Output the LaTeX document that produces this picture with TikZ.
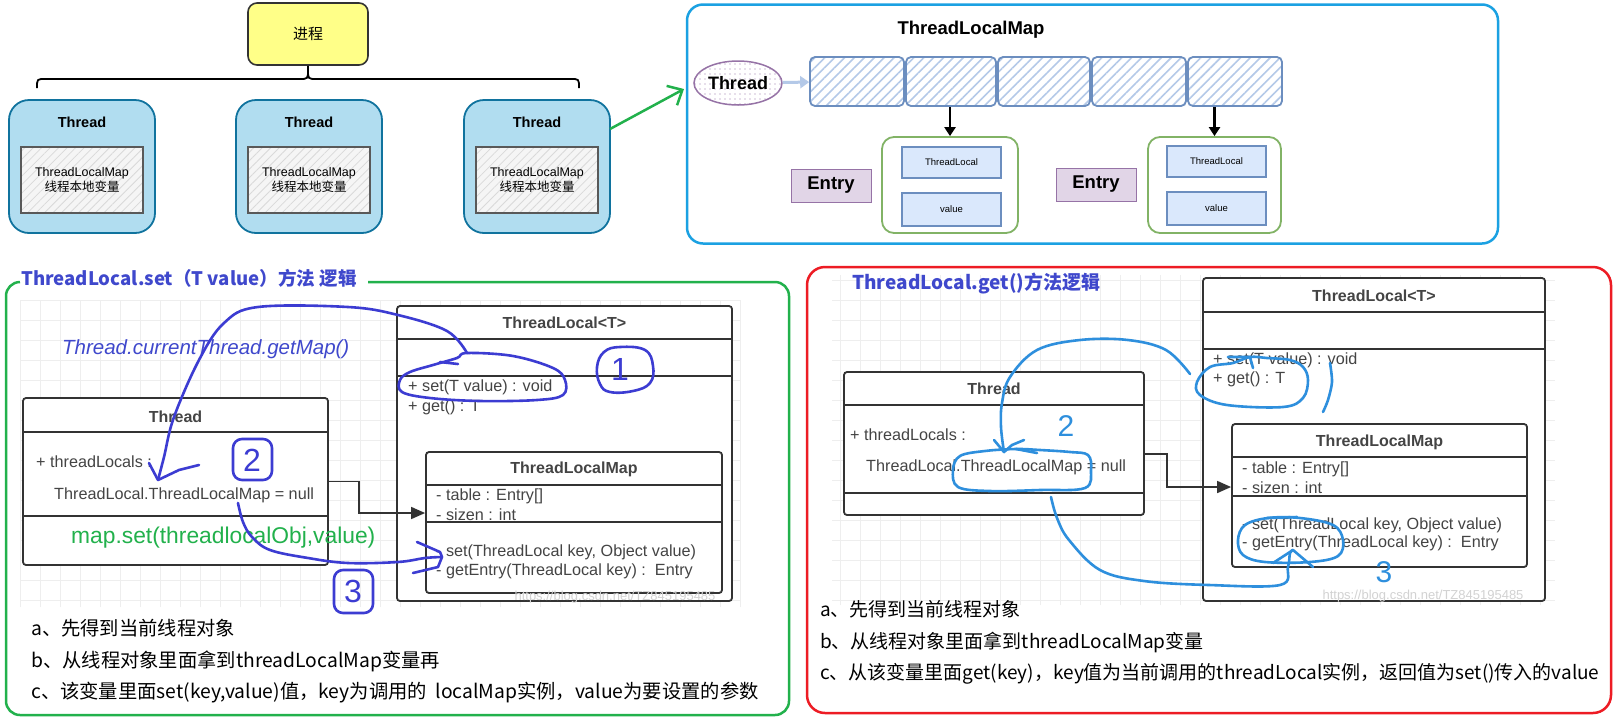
\documentclass[tikz,border=0pt]{standalone}
\usepackage{fontspec}
\setmainfont{Liberation Sans}
\newfontfamily\cjk{Noto Sans CJK SC}
\usetikzlibrary{arrows.meta,patterns.meta,shapes.geometric,calc}
\definecolor{thfill}{HTML}{B1DDF0}
\definecolor{thline}{HTML}{10739E}
\definecolor{procfill}{HTML}{FFFF88}
\definecolor{topblue}{HTML}{1BA1E2}
\definecolor{cellline}{HTML}{6C8EBF}
\definecolor{cellhatch}{HTML}{B4C9E8}
\definecolor{purpline}{HTML}{9673A6}
\definecolor{purpfill}{HTML}{E1D5E7}
\definecolor{entgreen}{HTML}{82B366}
\definecolor{inblue}{HTML}{DAE8FC}
\definecolor{pgreen}{HTML}{22B14C}
\definecolor{pred}{HTML}{ED1C24}
\definecolor{tblue}{HTML}{3F48CC}
\definecolor{annl}{HTML}{3C3CD2}
\definecolor{annr}{HTML}{2E8FDD}
\definecolor{umlc}{HTML}{333333}
\definecolor{umltext}{HTML}{444444}
\definecolor{gridc}{HTML}{EEEEEE}
\newcommand{\fsz}[1]{\fontsize{#1}{#1}\selectfont}
\begin{document}
\begin{tikzpicture}[x=1pt,y=-1pt,
  proc/.style={draw=umlc,line width=1.6pt,fill=procfill,rounded corners=9pt,minimum width=120pt,minimum height=62pt,font=\cjk\fsz{15}},
  thbox/.style={draw=thline,fill=thfill,line width=1.8pt,rounded corners=20pt,minimum width=146pt,minimum height=133pt},
  thtitle/.style={font=\bfseries\fsz{14.5},inner sep=0pt},
  inbox/.style={draw=gray!70!black,line width=1.6pt,preaction={fill=gray!8},pattern={Lines[angle=45,distance=6pt,line width=0.8pt]},pattern color=gray!30,minimum width=122pt,minimum height=66pt,align=center,font=\fsz{12.5},inner sep=0pt},
  brace/.style={line width=1.8pt,draw=black},
  garrow/.style={draw=pgreen,line width=2.5pt,-{Straight Barb[length=12pt,width=22pt]}},
  cell/.style={draw=cellline,line width=1.8pt,rounded corners=5pt,preaction={fill=white},pattern={Lines[angle=45,distance=7pt,line width=1.6pt]},pattern color=cellhatch,minimum height=49pt,inner sep=0pt},
  larrow/.style={draw=cellhatch,line width=3pt,-{Triangle[length=9pt,width=12pt]}},
  darrow/.style={draw=black,line width=2.4pt,-{Triangle[length=9pt,width=11pt]}},
  gbox/.style={draw=entgreen,line width=1.8pt,rounded corners=12pt,minimum height=96pt,inner sep=0pt},
  entry/.style={draw=purpline,fill=purpfill,line width=1pt,minimum width=80pt,minimum height=33pt,font=\bfseries\fsz{18.5},inner sep=0pt},
  ibox/.style={draw=cellline,fill=inblue,line width=1.4pt,minimum width=99pt,minimum height=31pt,font=\fsz{9.5},inner sep=0pt},
  umlbox/.style={draw=umlc,line width=1.8pt,rounded corners=3pt,fill=white,inner sep=0pt},
  umlline/.style={draw=umlc,line width=1.8pt},
  umltitle/.style={font=\bfseries\fsz{16},text=umltext,inner sep=0pt},
  member/.style={anchor=west,font=\fsz{16.2},text=umltext,inner sep=0pt},
  conn/.style={draw=umlc,line width=1.6pt,-{Triangle[length=14pt,width=12pt]}},
  btxt/.style={anchor=west,font=\cjk\fsz{19.3},inner sep=0pt},
  ttl/.style={anchor=west,text=tblue,font=\cjk\bfseries\fsz{19},inner sep=0pt},
  wm/.style={font=\fsz{13},text=gray!35,inner sep=0pt},
  annl/.style={draw=annl,line width=2.6pt,line cap=round,line join=round},
  annr/.style={draw=annr,line width=2.6pt,line cap=round,line join=round},
  digl/.style={text=annl,font=\fsz{32},inner sep=0pt},
  digr/.style={text=annr,font=\fsz{30},inner sep=0pt}
]
\useasboundingbox (0,0) rectangle (1620,724);
\fill[white] (0,0) rectangle (1620,724);
% grids
\draw[gridc,line width=0.8pt,step=20pt] (20,607) grid (740,300);
\draw[gridc,line width=0.8pt,step=20pt] (832,605) grid (1555,275);

% ===== top left =====
\node[proc] (proc) at (308,34) {进程};
\foreach \i/\x in {1/82,2/309,3/537}{
  \node[thbox] (t\i) at (\x,166.5) {};
  \node[thtitle] (tt\i) at (\x,122) {Thread};
  \node[inbox] (m\i) at (\x,180) {ThreadLocalMap\\[1pt]{\cjk 线程本地变量}};
}
\draw[brace] (proc.south) -- (308,70) .. controls (308,79) .. (299,79) -- (45,79) .. controls (37,79) .. (37,88);
\draw[brace] (308,70) .. controls (308,79) .. (317,79) -- (571,79) .. controls (579,79) .. (579,88);
\coordinate (ga) at (610,129);
\coordinate (gb) at (684,89);
\draw[garrow] (ga) -- (gb);

% ===== top right =====
\node[draw=topblue,line width=2.5pt,rounded corners=16pt,minimum width=811pt,minimum height=239pt] (tr) at (1092.5,124) {};
\node[font=\bfseries\fsz{18.5},inner sep=0pt] (trt) at (971,30) {ThreadLocalMap};
\node[ellipse,draw=purpline,line width=1.5pt,preaction={fill=white},pattern={Dots[distance=5pt,radius=0.8pt]},pattern color=purpline!45,minimum width=88pt,minimum height=44pt,font=\bfseries\fsz{18},inner sep=0pt] (el) at (738,83) {Thread};
\foreach \i/\a/\b in {1/809/905,2/905/997,3/997/1091,4/1091/1187,5/1187/1283}{
  \node[cell,minimum width={(\b-\a-2)*1pt}] (c\i) at ({(\a+\b)/2},81.5) {};
}
\draw[larrow] (el) -- (c1);
\node[gbox,minimum width=136pt] (g1) at (950,185) {};
\node[gbox,minimum width=133pt] (g2) at (1214.5,185) {};
\draw[darrow] (g1.north |- c2.south) -- (g1.north);
\draw[darrow] (g2.north |- c5.south) -- (g2.north);
\node[entry] (e1) at (831,185.5) {Entry};
\node[entry] (e2) at (1096,184.5) {Entry};
\node[ibox] (k1) at (951.5,162.5) {ThreadLocal};
\node[ibox,minimum height=33pt] (v1) at (951.5,209.5) {value};
\node[ibox] (k2) at (1216.5,161.5) {ThreadLocal};
\node[ibox,minimum height=33pt] (v2) at (1216.5,208.5) {value};

% ===== bottom left frame =====
\draw[pgreen,line width=2.5pt,rounded corners=14pt] (20,282) -| (6,715) -| (789,282) -- (368,282);
\node[ttl,font=\cjk\bfseries\fsz{18.6}] (lt) at (21,278) {ThreadLocal.set（T value）方法 逻辑};

% ===== bottom right frame =====
\node[draw=pred,line width=2.5pt,rounded corners=18pt,minimum width=804pt,minimum height=446pt] (rf) at (1209,490) {};
\node[ttl] (rt) at (852,283) {ThreadLocal.get()方法逻辑};

% ===== left UML =====
\node[umlbox,minimum width=335pt,minimum height=295pt] (ltl) at (564.5,453.5) {};
\draw[umlline] ($(ltl.north west)+(0,34)$) -- ($(ltl.north east)+(0,34)$);
\draw[umlline] ($(ltl.north west)+(0,71)$) -- ($(ltl.north east)+(0,71)$);
\node[umltitle] (ltlt) at (564.5,323) {ThreadLocal<T>};
\node[member] (lset) at (408,387) {+ set(T value) : void};
\node[member] (lget) at (408,407) {+ get() : T};
\node[umlbox,minimum width=296pt,minimum height=141pt] (ltm) at (574,522.5) {};
\draw[umlline] ($(ltm.north west)+(0,34)$) -- ($(ltm.north east)+(0,34)$);
\draw[umlline] ($(ltm.north west)+(0,71)$) -- ($(ltm.north east)+(0,71)$);
\node[umltitle] (ltmt) at (574,469) {ThreadLocalMap};
\node[member] (ltab) at (436,496) {- table : Entry[]};
\node[member] (lsiz) at (436,515) {- sizen : int};
\node[member] (lmset) at (436,552) {- set(ThreadLocal key, Object value)};
\node[member] (lmget) at (436,571) {- getEntry(ThreadLocal key) :\ \ Entry};
\node[umlbox,minimum width=305pt,minimum height=167pt] (lth) at (175.5,481.5) {};
\draw[umlline] ($(lth.north west)+(0,35)$) -- ($(lth.north east)+(0,35)$);
\draw[umlline] ($(lth.north west)+(0,119)$) -- ($(lth.north east)+(0,119)$);
\node[umltitle] (ltht) at (175.5,417) {Thread};
\node[member] (lthl) at (36,462) {+ threadLocals :};
\node[member] (lthm) at (54,495) {ThreadLocal.ThreadLocalMap = null};
\node[anchor=west,text=pgreen,font=\fsz{22.8},inner sep=0pt] (lmap) at (71,538) {map.set(threadlocalObj,value)};
\draw[conn] (lth.east) -- (359,481.5) |- ($(ltm.west)+(0,-9.5)$);
\node[wm] (lwm) at (615,597) {https://blog.csdn.net/TZ845195485};
\node[anchor=west,text=tblue,font=\itshape\fsz{20.5},inner sep=0pt] (lcur) at (62,349) {Thread.currentThread.getMap()};

% ===== right UML =====
\node[umlbox,minimum width=342pt,minimum height=323pt] (rtl) at (1374,439.5) {};
\draw[umlline] ($(rtl.north west)+(0,35)$) -- ($(rtl.north east)+(0,35)$);
\draw[umlline] ($(rtl.north west)+(0,72)$) -- ($(rtl.north east)+(0,72)$);
\node[umltitle] (rtlt) at (1374,296) {ThreadLocal<T>};
\node[member] (rset) at (1213,360) {+ set(T value) : void};
\node[member] (rget) at (1213,379) {+ get() : T};
\node[umlbox,minimum width=295pt,minimum height=143pt] (rtm) at (1379.5,495.5) {};
\draw[umlline] ($(rtm.north west)+(0,34)$) -- ($(rtm.north east)+(0,34)$);
\draw[umlline] ($(rtm.north west)+(0,73)$) -- ($(rtm.north east)+(0,73)$);
\node[umltitle] (rtmt) at (1379.5,442) {ThreadLocalMap};
\node[member] (rtab) at (1242,469) {- table : Entry[]};
\node[member] (rsiz) at (1242,488) {- sizen : int};
\node[member] (rmset) at (1242,525) {- set(ThreadLocal key, Object value)};
\node[member] (rmget) at (1242,543) {- getEntry(ThreadLocal key) :\ \ Entry};
\node[umlbox,minimum width=300pt,minimum height=143pt] (rth) at (994,443.5) {};
\draw[umlline] ($(rth.north west)+(0,34)$) -- ($(rth.north east)+(0,34)$);
\draw[umlline] ($(rth.north west)+(0,122)$) -- ($(rth.north east)+(0,122)$);
\node[umltitle] (rtht) at (994,389) {Thread};
\node[member] (rthl) at (850,435) {+ threadLocals :};
\node[member] (rthm) at (866,467) {ThreadLocal.ThreadLocalMap = null};
\draw[conn] ($(rth.east)+(0,10.5)$) -- (1167,454) |- ($(rtm.west)+(0,-8.5)$);
\node[wm] (rwm) at (1423,596) {https://blog.csdn.net/TZ845195485};

% ===== bottom texts =====
\node[btxt] (la) at (31,628) {a、先得到当前线程对象};
\node[btxt] (lb) at (31,661) {b、从线程对象里面拿到threadLocalMap变量再};
\node[btxt] (lc) at (31,693) {c、该变量里面set(key,value)值，key为调用的\ \ localMap实例，value为要设置的参数};
\node[btxt,font=\cjk\fsz{19}] (ra) at (820,609) {a、先得到当前线程对象};
\node[btxt,font=\cjk\fsz{19}] (rb) at (820,642) {b、从线程对象里面拿到threadLocalMap变量};
\node[btxt,font=\cjk\fsz{19}] (rc) at (820,674) {c、从该变量里面get(key)，key值为当前调用的threadLocal实例，返回值为set()传入的value};

% ===== left annotations =====
\draw[annl] plot[smooth,tension=0.6] coordinates {(467,353) (447,331) (398,315) (348,307) (258,307) (224,323) (199,360) (174,417) (164,457) (158,480)};
\draw[annl] (149,463) -- (158,480) -- (179,470) -- (199,465);
\draw[annl] plot[smooth cycle,tension=0.6] coordinates {(467,353) (513,356) (553,368) (565,380) (563,395) (537,400) (480,401) (430,398) (402,392) (400,380) (410,372) (433,365) (457,358)};
\draw[annl] (440,362) -- (458,364);
\draw[annl] plot[smooth cycle,tension=0.7] coordinates {(620,347) (645,350) (653,366) (650,383) (633,391) (610,392) (600,384) (597,367) (604,352)};
\node[digl] (n1) at (620,369) {1};
\draw[annl,rounded corners=9pt] (233,439) rectangle (272,480);
\node[digl] (n2) at (252,460) {2};
\draw[annl] plot[smooth,tension=0.6] coordinates {(238,503) (243,522) (252,537) (270,550) (308,558) (348,563) (398,562) (425,558) (442,557)};
\draw[annl] (417,542) -- (440,552) -- (442,557) -- (438,567) -- (413,573);
\draw[annl,rounded corners=9pt] (334,570) rectangle (373,613);
\node[digl] (n3) at (353,591) {3};

% ===== right annotations =====
\draw[annr] plot[smooth cycle,tension=0.6] coordinates {(1233,363) (1210,367) (1197,382) (1200,395) (1227,405) (1283,407) (1303,398) (1308,380) (1303,367) (1290,360) (1267,358) (1250,357)};
\draw[annr] (1228,357) -- (1250,357) -- (1253,368);
\draw[annr] plot[smooth] coordinates {(1330,363) (1332,382) (1328,400) (1323,412)};
\draw[annr] plot[smooth,tension=0.6] coordinates {(1190,374) (1166,350) (1128,340) (1080,340) (1037,350) (1010,377) (1002,403) (1001,427) (1004,452)};
\draw[annr] (994,440) -- (1004,452) -- (1012,445) -- (1024,440);
\node[digr] (r2) at (1066,426) {2};
\draw[annr] plot[smooth cycle,tension=0.6] coordinates {(1016,449) (985,451) (960,456) (953,470) (958,487) (990,491) (1040,490) (1085,488) (1091,470) (1088,455) (1070,452) (1040,450)};
\draw[annr] (1016,449) -- (1037,453);
\draw[annr] plot[smooth,tension=0.6] coordinates {(1051,497) (1057,518) (1069,540) (1100,570) (1144,581) (1209,585) (1280,585) (1288,567) (1290,553) (1293,550)};
\draw[annr] (1273,563) -- (1293,550) -- (1313,567);
\draw[annr] plot[smooth cycle,tension=0.6] coordinates {(1268,518) (1245,525) (1238,540) (1243,555) (1265,562) (1310,562) (1338,556) (1343,540) (1333,525) (1300,518)};
\draw[annr] (1267,518) -- (1297,517);
\node[digr] (r3) at (1384,572) {3};
\end{tikzpicture}
\end{document}
